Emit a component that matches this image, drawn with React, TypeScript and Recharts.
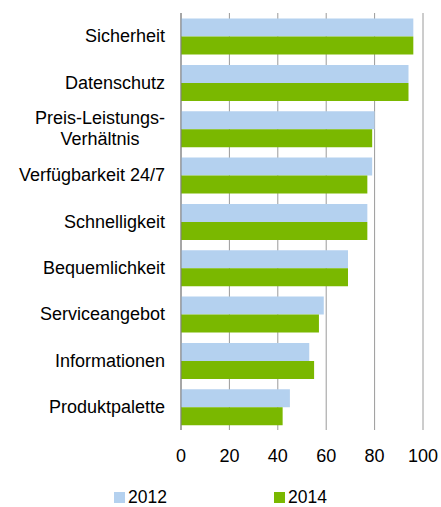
import { BarChart, Bar, XAxis, YAxis, CartesianGrid, Legend } from "recharts"

const categories = [
    "Sicherheit",
    "Datenschutz",
    "Preis-Leistungs-\nVerhältnis",
    "Verfügbarkeit 24/7",
    "Schnelligkeit",
    "Bequemlichkeit",
    "Serviceangebot",
    "Informationen",
    "Produktpalette",
]
const values2012 = [96, 94, 80, 79, 77, 69, 59, 53, 45]
const values2014 = [96, 94, 79, 77, 77, 69, 57, 55, 42]
const xTicks = [0, 20, 40, 60, 80, 100]

const COLORS = {
    y2012: "#b4d1ef",
    y2014: "#7ab800",
}

const FONT = "'Liberation Sans', Arial, sans-serif"
const LABEL_SIZE = 18

const data = categories.map((name, i) => ({
    name,
    v2012: values2012[i],
    v2014: values2014[i],
}))

// width of a label line, so wrapped labels can be centred as a block
function textWidth(s: string) {
    const ctx = document.createElement("canvas").getContext("2d")
    if (!ctx) return s.length * LABEL_SIZE * 0.5
    ctx.font = `${LABEL_SIZE}px ${FONT}`
    return ctx.measureText(s).width
}

function CategoryTick({ x, y, payload }: any) {
    const lines = String(payload.value).split("\n")
    const lh = 21
    const start = y - ((lines.length - 1) * lh) / 2
    if (lines.length === 1) {
        return (
            <text x={x} y={y} dy="0.34em" textAnchor="end" fontSize={LABEL_SIZE} fill="#000" fontFamily={FONT}>
                {lines[0]}
            </text>
        )
    }
    const w = Math.max(...lines.map(textWidth))
    const cx = x - w / 2
    return (
        <text x={cx} y={start} textAnchor="middle" fontSize={LABEL_SIZE} fill="#000" fontFamily={FONT}>
            {lines.map((l, i) => (
                <tspan key={i} x={cx} y={start + i * lh} dy="0.34em">{l}</tspan>
            ))}
        </text>
    )
}

function LegendBox() {
    const items = [
        { label: "2012", color: COLORS.y2012 },
        { label: "2014", color: COLORS.y2014 },
    ]
    return (
        <div style={{ display: "flex", height: 20, alignItems: "center", paddingLeft: 114, fontFamily: FONT, fontSize: 17.5, color: "#000" }}>
            {items.map((it) => (
                <div key={it.label} style={{ display: "flex", alignItems: "center", width: 160 }}>
                    <span style={{ display: "inline-block", width: 11, height: 11, background: it.color, marginRight: 3 }} />
                    <span>{it.label}</span>
                </div>
            ))}
        </div>
    )
}

export default function App() {
    return (
        <div style={{ position: "absolute", left: 0, top: 0, width: 441, height: 507, background: "#fff" }}>
            <BarChart
                width={441}
                height={507}
                data={data}
                layout="vertical"
                margin={{ top: 13, right: 18, left: 0, bottom: 0 }}
                barCategoryGap="12%"
                barGap={0}
            >
                <CartesianGrid horizontal={false} stroke="#9a9a9a" />
                <XAxis
                    type="number"
                    domain={[0, 100]}
                    ticks={xTicks}
                    axisLine={false}
                    tickLine={false}
                    tickSize={0}
                    tickMargin={19}
                    height={57}
                    tick={{ fontSize: 18, fill: "#000", fontFamily: FONT }}
                    interval={0}
                />
                <YAxis
                    type="category"
                    dataKey="name"
                    width={181}
                    axisLine={{ stroke: "#808080" }}
                    tickLine={false}
                    tickSize={0}
                    tickMargin={16}
                    tick={<CategoryTick />}
                    interval={0}
                />
                <Legend verticalAlign="bottom" height={20} content={<LegendBox />} wrapperStyle={{ left: 0, width: 441 }} />
                <Bar dataKey="v2012" name="2012" fill={COLORS.y2012} isAnimationActive={false} />
                <Bar dataKey="v2014" name="2014" fill={COLORS.y2014} isAnimationActive={false} />
            </BarChart>
        </div>
    )
}
